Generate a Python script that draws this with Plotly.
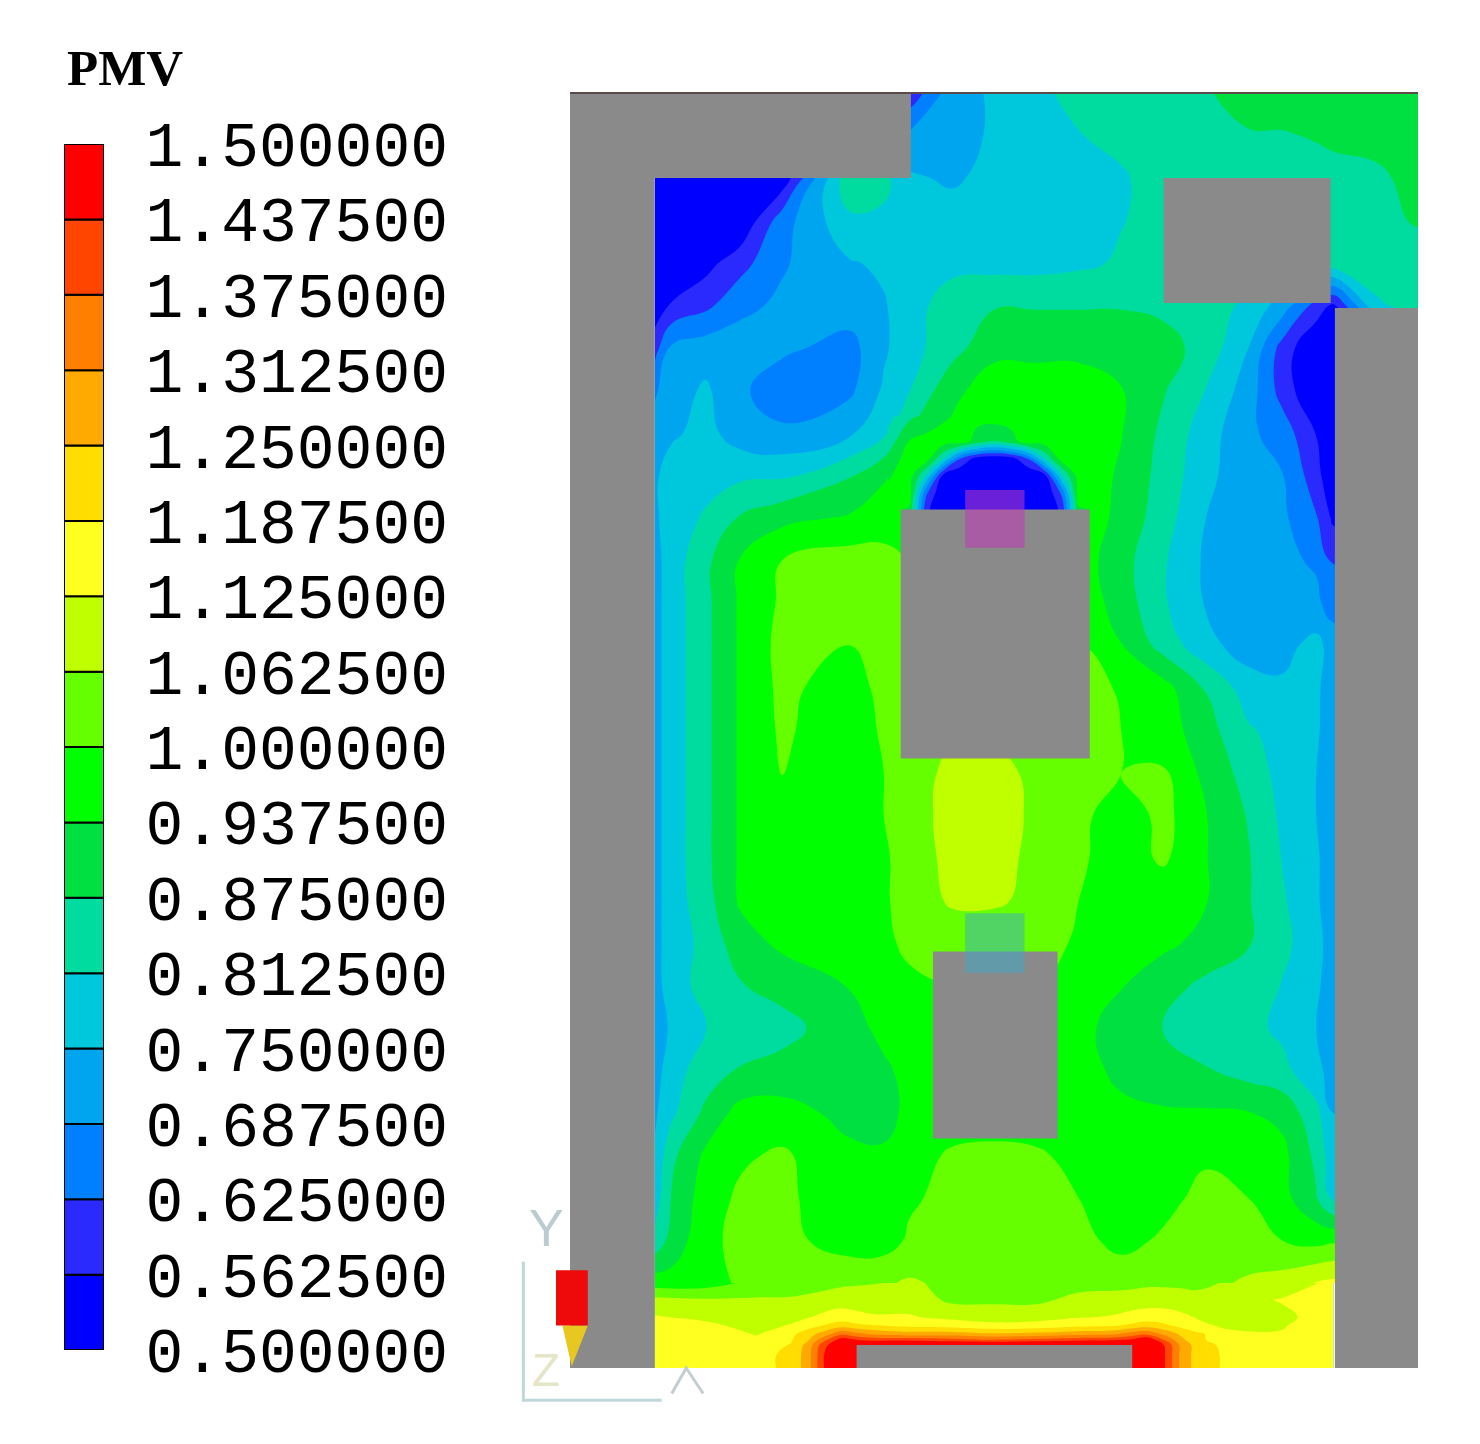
import plotly.graph_objects as go

# PMV legend levels and band colours, low to high
pmv_levels = [0.5 + 0.0625 * i for i in range(17)]
band_colors = ['#0000ff', '#2a2aff', '#0080ff', '#00a5f0', '#00c8dc', '#00dca0', '#00e040', '#00ff00',
               '#66ff00', '#bfff00', '#ffff20', '#ffdd00', '#ffaa00', '#ff8000', '#ff4500', '#ff0000']

# main field, room units (wall thickness = 1)
main_x = [1, 1.2, 1.6, 2, 2.5, 3.3, 3.7, 4, 4.5, 5, 5.5, 6, 6.5, 7, 7.5, 8, 8.4, 8.8, 9, 9.5, 10]
main_y = [15, 14.5, 14, 13.5, 13, 12.5, 12, 11.5, 11, 10.5, 10, 9.5, 9, 8.5, 8, 7.5, 7, 6.5, 6, 5.5, 5,
          4.5, 4, 3.5, 3, 2.5, 2, 1.5, 1]
main_pmv = [
    [.55, .55, .55, .55, .55, .55, .55, .58, .72, .76, .80, .83, .85, .86, .87, .90, .91, .91, .91, .91, .91],
    [.55, .55, .55, .55, .55, .60, .66, .70, .72, .76, .78, .81, .83, .85, .86, .87, .87, .88, .89, .90, .91],
    [.50, .50, .50, .50, .52, .86, .83, .76, .74, .77, .79, .79, .805, .84, .85, .85, .85, .85, .85, .86, .90],
    [.50, .50, .50, .50, .66, .80, .80, .78, .78, .78, .78, .79, .81, .83, .85, .85, .85, .85, .85, .86, .88],
    [.50, .50, .54, .60, .68, .745, .76, .77, .79, .79, .79, .80, .82, .84, .85, .85, .85, .85, .85, .85, .85],
    [.52, .57, .61, .67, .70, .72, .745, .78, .85, .87, .87, .87, .87, .86, .84, .80, .72, .60, .55, .80, .84],
    [.60, .70, .72, .72, .70, .665, .74, .79, .85, .92, .92, .92, .92, .90, .85, .75, .60, .50, .50, .60, .60],
    [.68, .72, .76, .70, .65, .675, .76, .81, .92, .97, .97, .97, .94, .88, .81, .72, .60, .50, .50, .50, .50],
    [.71, .74, .77, .72, .70, .74, .80, .88, .95, .97, .97, .97, .94, .86, .78, .70, .66, .56, .50, .50, .50],
    [.74, .78, .79, .80, .80, .87, .93, .96, .97, .97, .97, .97, .93, .85, .77, .70, .69, .59, .50, .50, .50],
    [.74, .78, .82, .88, .92, .945, .97, .98, .98, .98, .98, .98, .92, .84, .75, .70, .70, .63, .55, .55, .55],
    [.73, .78, .86, .94, 1.0, 1.03, 1.02, 1.0, 1.0, 1.0, 1.0, .97, .90, .82, .74, .70, .70, .68, .62, .62, .62],
    [.73, .78, .86, .945, 1.01, 1.03, 1.03, 1.02, 1.0, 1.0, 1.0, .98, .91, .82, .745, .70, .70, .70, .66, .66, .66],
    [.73, .78, .86, .945, 1.02, 1.0, 1.03, 1.02, 1.0, 1.0, 1.0, 1.0, .94, .85, .77, .72, .73, .77, .72, .72, .72],
    [.73, .78, .86, .945, 1.015, .97, 1.02, 1.03, 1.0, 1.0, 1.0, 1.02, .995, .96, .87, .78, .76, .76, .72, .72, .72],
    [.73, .78, .86, .945, 1.01, .96, 1.01, 1.03, 1.05, 1.05, 1.05, 1.03, 1.0, .97, .90, .82, .79, .76, .71, .71, .71],
    [.73, .78, .86, .945, 1.005, .96, 1.0, 1.03, 1.08, 1.08, 1.05, 1.04, 1.0, 1.005, .92, .85, .79, .75, .71, .71, .71],
    [.73, .78, .86, .945, .98, .96, 1.0, 1.04, 1.08, 1.08, 1.055, 1.02, .96, 1.02, .94, .87, .80, .75, .71, .71, .71],
    [.73, .78, .86, .945, .97, .96, .99, 1.03, 1.08, 1.08, 1.05, 1.01, .97, 1.01, .94, .88, .81, .76, .71, .71, .71],
    [.73, .78, .85, .945, .97, .96, .99, 1.03, 1.07, 1.07, 1.05, 1.0, .97, .96, .94, .88, .82, .76, .71, .71, .71],
    [.73, .78, .83, .91, .95, .96, .98, 1.02, 1.03, 1.03, 1.03, .99, .96, .95, .92, .88, .83, .77, .72, .72, .72],
    [.72, .79, .83, .87, .90, .94, .96, .98, 1.0, 1.0, 1.0, .96, .94, .90, .86, .84, .81, .76, .72, .72, .72],
    [.72, .76, .81, .84, .85, .92, .95, .96, .97, .97, .97, .95, .92, .87, .84, .83, .80, .75, .71, .71, .71],
    [.72, .79, .84, .88, .90, .92, .93, .95, .96, .96, .96, .95, .93, .90, .88, .85, .83, .77, .72, .72, .72],
    [.74, .80, .89, .96, .96, .92, .92, .95, .96, .96, .96, .95, .945, .945, .945, .94, .92, .83, .75, .75, .75],
    [.76, .86, .95, .99, 1.01, .95, .945, .97, 1.01, 1.02, 1.01, .98, .96, .965, .99, .98, .955, .86, .77, .77, .77],
    [.78, .88, .97, 1.01, 1.01, .97, .95, .99, 1.02, 1.03, 1.02, 1.0, .96, .98, 1.02, 1.0, .96, .88, .80, .80, .80],
    [.83, .90, .98, 1.02, 1.02, .97, .97, 1.01, 1.03, 1.03, 1.03, 1.02, .98, 1.01, 1.03, 1.03, 1.0, .98, .99, .99, .99],
    [.97, .96, .97, 1.01, 1.03, 1.05, 1.055, 1.07, 1.05, 1.04, 1.05, 1.04, 1.04, 1.05, 1.05, 1.07, 1.09, 1.13, 1.14, 1.14, 1.14],
]

# cold dome above the large block
dome_x = [3.75, 4, 4.2, 4.4, 4.6, 4.8, 5, 5.2, 5.4, 5.6, 5.8, 6, 6.25]
dome_y = [11.2, 10.9, 10.7, 10.5, 10.3, 10.1, 10]
dome_pmv = [
    [.79, .86, .89, .925, .95, .96, .97, .97, .97, .97, .97, .97, .955],
    [.84, .94, .96, .97, .97, .91, .87, .91, .97, .97, .97, .97, .95],
    [.89, .97, .97, .82, .63, .535, .515, .535, .63, .82, .97, .97, .95],
    [.93, .97, .81, .55, .50, .50, .50, .50, .50, .55, .81, .97, .95],
    [.95, .97, .64, .50, .50, .50, .50, .50, .50, .50, .64, .97, .95],
    [.96, .93, .58, .50, .50, .50, .50, .50, .50, .50, .58, .93, .95],
    [.96, .93, .58, .50, .50, .50, .50, .50, .50, .50, .58, .93, .95],
]

# hot strip along the floor and around the heater
floor_x = [1, 1.6, 2.2, 2.6, 2.8, 3, 3.2, 3.38, 3.6, 4, 4.5, 5, 5.5, 6, 6.4, 6.62, 6.8, 7, 7.2, 7.4, 7.8, 8.4, 9]
floor_y = [1, .8, .6, .5, .4, .33, .27, .15, 0]
floor_pmv = [
    [.97, .97, 1.02, 1.03, 1.03, 1.04, 1.05, 1.055, 1.06, 1.07, 1.05, 1.04, 1.05, 1.04, 1.04, 1.04, 1.05, 1.05, 1.05, 1.05, 1.07, 1.09, 1.14],
    [1.08, 1.07, 1.07, 1.07, 1.08, 1.09, 1.10, 1.10, 1.10, 1.10, 1.05, 1.05, 1.05, 1.08, 1.09, 1.10, 1.10, 1.10, 1.09, 1.08, 1.10, 1.13, 1.16],
    [1.13, 1.11, 1.09, 1.10, 1.12, 1.14, 1.15, 1.14, 1.13, 1.13, 1.11, 1.10, 1.10, 1.12, 1.13, 1.14, 1.15, 1.15, 1.14, 1.12, 1.10, 1.11, 1.16],
    [1.16, 1.14, 1.10, 1.13, 1.16, 1.19, 1.22, 1.20, 1.19, 1.17, 1.16, 1.14, 1.15, 1.17, 1.18, 1.20, 1.22, 1.20, 1.17, 1.14, 1.11, 1.12, 1.17],
    [1.17, 1.17, 1.12, 1.17, 1.22, 1.28, 1.36, 1.33, 1.30, 1.28, 1.28, 1.26, 1.27, 1.29, 1.30, 1.34, 1.36, 1.30, 1.24, 1.20, 1.14, 1.13, 1.18],
    [1.18, 1.18, 1.14, 1.18, 1.24, 1.36, 1.47, 1.44, 1.42, 1.42, 1.40, 1.38, 1.40, 1.42, 1.43, 1.45, 1.50, 1.38, 1.27, 1.20, 1.15, 1.15, 1.18],
    [1.18, 1.18, 1.16, 1.19, 1.27, 1.42, 1.50, 1.55, 1.55, 1.55, 1.55, 1.55, 1.55, 1.55, 1.55, 1.55, 1.52, 1.44, 1.30, 1.22, 1.16, 1.16, 1.18],
    [1.18, 1.18, 1.17, 1.20, 1.28, 1.44, 1.52, 1.55, 1.55, 1.55, 1.55, 1.55, 1.55, 1.55, 1.55, 1.55, 1.52, 1.45, 1.30, 1.22, 1.17, 1.17, 1.18],
    [1.18, 1.18, 1.17, 1.20, 1.28, 1.44, 1.52, 1.55, 1.55, 1.55, 1.55, 1.55, 1.55, 1.55, 1.55, 1.55, 1.52, 1.45, 1.30, 1.22, 1.17, 1.17, 1.18],
]

# solid parts: x0, x1, y0, y1 in room units
solids = [
    (0, 1, 0, 15),          # left wall
    (0, 4.02, 14, 15),      # top wall
    (9.02, 10, 0, 12.47),   # right wall
    (7, 8.97, 12.53, 14),   # upper right unit
    (3.9, 6.13, 7.17, 10.1),  # large block
    (4.28, 5.75, 2.7, 4.9),   # small block
    (3.38, 6.63, 0, 0.27),    # heater
]

fig = go.Figure()

for xs, ys, zs in [(main_x, main_y, main_pmv), (floor_x, floor_y, floor_pmv), (dome_x, dome_y, dome_pmv)]:
    fig.add_trace(go.Contour(
        x=xs, y=ys, z=zs,
        colorscale=band_colors,
        showscale=False,
        contours=dict(start=0.5625, end=1.4375, size=0.0625, coloring='fill'),
        line=dict(width=0, smoothing=1.3),
        hoverinfo='skip',
    ))

# legend bar, one stacked segment per band
fig.add_trace(go.Bar(
    x=['PMV'] * 16,
    y=[pmv_levels[i + 1] - pmv_levels[i] for i in range(16)],
    base=pmv_levels[:16],
    marker=dict(color=band_colors, line=dict(color='black', width=2)),
    width=1,
    xaxis='x2', yaxis='y2',
    hoverinfo='skip',
))

for x0, x1, y0, y1 in solids:
    fig.add_shape(type='rect', x0=x0, x1=x1, y0=y0, y1=y1, fillcolor='#8b8a8a', line_width=0)

# translucent sensor boxes
fig.add_shape(type='rect', x0=4.66, x1=5.36, y0=9.65, y1=10.33, fillcolor='rgba(189,57,186,0.56)', line_width=0)
fig.add_shape(type='rect', x0=4.66, x1=5.36, y0=4.65, y1=5.35, fillcolor='rgba(60,170,200,0.5)', line_width=0)

# outline, dark along the top
fig.add_shape(type='line', x0=0, x1=10, y0=15, y1=15, line=dict(color='#5a4a4a', width=2))

# triad in the lower left
triad = 'rgba(170,200,205,0.75)'
fig.add_shape(type='path', path='M -0.55 1.25 L -0.55 -0.38 L 1.08 -0.38', line=dict(color=triad, width=3))
fig.add_shape(type='path', path='M 1.2 -0.3 L 1.37 0 L 1.57 -0.3', line=dict(color='rgba(190,200,205,0.9)', width=3))
fig.add_shape(type='path', path='M -0.09 0.5 L 0.21 0.5 L 0.02 0.02 Z', fillcolor='#e8c820', line_width=0)
fig.add_shape(type='rect', x0=-0.165, x1=0.21, y0=0.5, y1=1.15, fillcolor='#ee0a0a', line_width=0)
fig.add_annotation(x=-0.28, y=1.65, text='Y', showarrow=False, font=dict(family='Liberation Sans', size=52, color='rgba(175,195,200,0.85)'))
fig.add_annotation(x=-0.28, y=-0.02, text='Z', showarrow=False, font=dict(family='Liberation Sans', size=46, color='rgba(225,225,190,0.85)'))

fig.add_annotation(x=57 / 1464, y=1 - 60 / 1428, xref='paper', yref='paper', text='<b>PMV</b>', showarrow=False,
                   xanchor='left', yanchor='middle', font=dict(family='Liberation Serif', size=51, color='black'))

# the page body adds 8 px on each side, so the figure is 1464 x 1428
fig.update_layout(
    width=1464, height=1428,
    autosize=False,
    margin=dict(l=0, r=0, t=0, b=0, autoexpand=False),
    paper_bgcolor='white', plot_bgcolor='rgba(0,0,0,0)',
    showlegend=False,
    barmode='overlay',
    xaxis=dict(domain=[0, 1], range=[-562 / 84.8, 902 / 84.8], visible=False, automargin=False),
    yaxis=dict(domain=[0, 1], range=[-68 / 85, 1360 / 85], visible=False, automargin=False),
    xaxis2=dict(domain=[56 / 1464, 96 / 1464], anchor='y2', visible=False, automargin=False),
    yaxis2=dict(domain=[86 / 1428, 1292 / 1428], anchor='x2', side='right', range=[0.5, 1.5],
                tickmode='array', tickvals=pmv_levels, ticktext=['%.6f' % v for v in pmv_levels],
                ticks='outside', ticklen=28, tickcolor='white', showgrid=False, zeroline=False, showline=False,
                automargin=False,
                tickfont=dict(family='Liberation Mono', size=63, color='black')),
)

fig.write_html("out.html")
